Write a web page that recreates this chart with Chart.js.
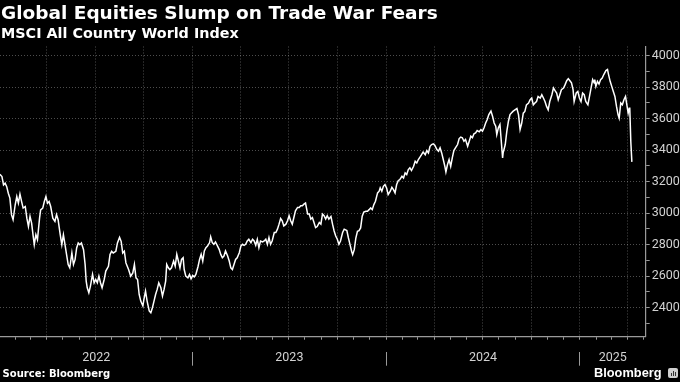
<!DOCTYPE html>
<html><head><meta charset="utf-8">
<script src="https://cdn.jsdelivr.net/npm/chart.js@4.4.1/dist/chart.umd.min.js"></script>
<style>
html,body{margin:0;padding:0;background:#000;width:680px;height:382px;overflow:hidden;}
#wrap{position:relative;width:680px;height:382px;}
canvas{position:absolute;left:0;top:0;}
.t{position:absolute;color:#fff;white-space:nowrap;font-family:"DejaVu Sans",sans-serif;font-weight:bold;}
#title{left:1px;top:3.5px;font-size:18.5px;line-height:18.5px;}
#sub{left:1px;top:26px;font-size:14.35px;line-height:14px;}
#src{left:2.6px;top:369px;font-size:10px;line-height:10px;}
#logo{left:594px;top:366px;font-family:"Liberation Sans",sans-serif;font-size:12.8px;line-height:13px;}
#icon{position:absolute;left:668px;top:368px;width:10px;height:10px;background:#cfcfcf;border-radius:2px;}
#icon i{position:absolute;bottom:2px;width:1.5px;background:#333;}
</style></head>
<body><div id="wrap">
<canvas id="c" width="680" height="382"></canvas>
<div class="t" id="title">Global Equities Slump on Trade War Fears</div>
<div class="t" id="sub">MSCI All Country World Index</div>
<div class="t" id="src">Source: Bloomberg</div>
<div class="t" id="logo">Bloomberg</div>
<div id="icon"><i style="left:2.5px;height:3px"></i><i style="left:4.5px;height:5px"></i><i style="left:6.5px;height:4px"></i></div>
</div>
<script>
// Days since 2022-01-01
const dayOffsets = [
1,5,8,11,14,17,20,23,26,30,33,36,39,42,45,49,52,55,58,61,
64,66,69,72,76,78,82,85,88,91,94,97,101,105,108,111,115,118,121,124,
127,130,133,137,140,143,146,149,152,155,159,162,164,166,169,172,176,179,182,185,
188,191,194,198,201,206,209,212,215,220,223,227,230,233,236,239,244,248,252,255,
258,261,264,267,271,273,276,279,283,286,289,292,295,298,301,305,308,311,314,
316,319,322,325,329,332,335,338,341,344,347,349,352,356,359,362,365,368,371,375,
378,381,384,387,390,393,397,399,402,405,408,412,415,418,421,424,427,431,434,437,
440,443,446,449,453,456,459,462,465,468,471,475,478,481,484,487,490,493,497,500,
503,506,509,512,515,519,522,525,528,531,534,537,541,544,547,550,553,556,559,563,
566,569,572,575,578,582,585,588,591,594,597,600,604,607,610,613,616,619,622,626,
629,632,635,638,641,644,648,651,
656,659,662,665,667,670,673,676,679,682,685,688,692,695,698,701,704,707,710,714,
717,719,722,725,728,731,734,738,741,744,747,750,753,756,760,763,766,769,772,775,
778,782,785,788,791,794,797,800,804,807,810,813,816,819,822,826,829,832,835,838,
841,843,846,849,852,855,858,861,865,868,871,874,877,880,884,887,890,893,896,899,
902,906,909,912,915,918,921,924,928,931,934,937,939,942,945,947,950,951,955,958,
961,964,967,970,974,977,980,983,
986,989,992,995,999,1002,1005,1008,1011,1014,1017,1021,1024,1027,1030,1033,1036,1039,1043,1046,
1049,1052,1055,1058,1061,1065,1068,1071,1074,1077,1080,1083,1085,1089,1092,1095,1098,1101,1104,1107,
1111,1114,1117,1120,1123,1124,1126,1129,1132,1135,1138,1141,1145,1148,1150,1153,1156,1159,1162,1165,
1168,1170,1173,1176,1179,1182,1184,1187,1189,1190,1192,1194
];
const values = [
3246,3232,3179,3190,3168,3126,3095,2990,2958,3053,3105,3063,3120,3074,3032,3042,2968,2916,2979,2937,
2853,2800,2863,2832,2968,3021,3032,3074,3105,3063,3074,3042,2968,2947,2990,2958,2863,2800,2863,2800,
2737,2674,2653,2747,2674,2705,2779,2811,2800,2811,2768,2674,2568,2526,2495,2537,2611,2558,2579,2558,
2600,2558,2526,2579,2632,2663,2737,2758,2747,2758,2811,2846,2821,2747,2758,2684,2642,2600,2621,2674,
2589,2579,2484,2442,2411,2453,2505,2442,2379,2368,2400,2442,2484,2516,2558,2526,2474,2516,2568,
2674,2653,2642,2653,2696,2664,2738,2696,2653,2706,2717,2642,2600,2589,2611,2583,2604,2596,2611,2660,
2706,2738,2696,2760,2781,2791,2813,2849,2813,2802,2817,2791,2770,2738,2717,2728,2760,2728,2696,2653,
2642,2674,2706,2717,2749,2791,2802,2796,2802,2823,2834,2813,2834,2823,2796,2834,2781,2823,2817,2823,
2834,2802,2845,2802,2823,2877,2877,2898,2930,2966,2951,2919,2930,2951,2983,2951,2930,2972,3015,3036,
3036,3047,3047,3057,3064,2994,2994,2962,2972,2940,2908,2915,2940,2930,2994,2983,2962,2983,2962,2979,
2930,2887,2855,2834,2802,2823,2877,2898,
2889,2842,2800,2758,2737,2768,2842,2885,2889,2906,2980,3007,3012,3012,3022,3033,3022,3054,3075,3128,
3139,3160,3139,3170,3181,3160,3118,3139,3164,3149,3128,3181,3206,3213,3234,3223,3255,3245,3276,3287,
3270,3297,3329,3318,3340,3355,3371,3388,3371,3397,3382,3424,3435,3439,3431,3403,3393,3414,3382,3340,
3297,3261,3308,3340,3297,3350,3397,3414,3435,3473,3482,3478,3456,3467,3424,3456,3488,3478,3503,3509,
3524,3516,3530,3520,3541,3572,3594,3625,3647,3615,3572,3551,3498,3541,3562,3478,3350,3382,3435,3520,
3583,3625,3636,3647,3657,3664,3625,3530,
3570,3634,3645,3687,3698,3719,3730,3687,3698,3708,3740,3730,3751,3730,3708,3677,3655,3708,3751,3794,
3777,3762,3719,3751,3783,3794,3815,3840,3853,3840,3826,3783,3708,3762,3772,3730,3708,3762,3751,3708,
3687,3740,3794,3847,3826,3847,3804,3836,3819,3847,3857,3879,3904,3911,3879,3836,3804,3772,3740,3677,
3623,3602,3698,3687,3719,3740,3698,3634,3666,3670,3453,3325
];
const yearLabels = ['2022','2023','2024','2025'];
const yTickValues = [2300,2400,2500,2600,2700,2800,2900,3000,3100,3200,3300,3400,3500,3600,3700,3800,3900,4000];
const yLabelStep = 200;
const xMin = 1.32, xMax = 1220.1;   // visible date range, days since 2022-01-01
const yMin = 2216, yMax = 4057;

const DAY = 86400000;
const base = Date.UTC(2022,0,1);
const dOff = (y,m,d) => (Date.UTC(y,m,d) - base) / DAY;

// month ticks and quarter gridlines
const monthTicks = [];
for (let y = 2022; y <= 2025; y++) for (let m = 0; m < 12; m++) {
  const v = dOff(y,m,1);
  if (v >= xMin && v <= xMax) monthTicks.push({value:v, quarter: m % 3 === 0});
}
const isQuarter = v => monthTicks.some(t => t.quarter && Math.abs(t.value - v) < 1e-6);

// year label ticks (centered on visible part of each year) + separators at year starts
const yearTicks = [];
yearLabels.forEach((lab, i) => {
  const y = +lab;
  const s = Math.max(dOff(y,0,1), xMin), e = Math.min(dOff(y+1,0,1), xMax);
  if (i > 0) yearTicks.push({value: dOff(y,0,1), label: '', sep: true});
  yearTicks.push({value: (s + e) / 2, label: lab, sep: false});
});
yearTicks.sort((a,b) => a.value - b.value);

const GRID = 'rgba(255,255,255,0.3)';
const AXIS = '#9a9a9a';
const LABEL = '#d2d2d2';
const FONT = {family: 'Roboto', size: 12.5};

new Chart(document.getElementById('c'), {
  type: 'line',
  data: { datasets: [{
    data: dayOffsets.map((d,i) => ({x: d, y: values[i]})),
    borderColor: '#ffffff', borderWidth: 1.5, pointRadius: 0, tension: 0, fill: false
  }]},
  options: {
    responsive: false, animation: false, devicePixelRatio: 1, events: [],
    layout: { padding: {top: 46.5, left: 0, right: 0, bottom: 0} },
    plugins: { legend: {display: false}, tooltip: {enabled: false} },
    scales: {
      x: {
        type: 'linear', position: 'bottom', weight: 0, min: xMin, max: xMax,
        afterBuildTicks: s => { s.ticks = monthTicks.map(t => ({value: t.value})); },
        afterFit: s => { s.height = 15; },
        ticks: { display: false },
        grid: {
          color: c => (c.tick && isQuarter(c.tick.value)) ? GRID : 'transparent',
          lineWidth: 1, tickLength: 3, tickColor: AXIS, tickBorderDash: [], tickWidth: 1
        },
        border: { display: true, color: AXIS, width: 1.2, dash: [1,2] }
      },
      xYear: {
        type: 'linear', position: 'bottom', weight: 1, min: xMin, max: xMax,
        afterBuildTicks: s => { s.ticks = yearTicks.map(t => ({value: t.value})); },
        afterFit: s => { s.height = 30.3; },
        ticks: { autoSkip: false, maxRotation: 0, padding: -15, color: LABEL, font: FONT,
                 callback: (v, i) => yearTicks[i] ? yearTicks[i].label : '' },
        grid: { drawOnChartArea: false, tickLength: 14, lineWidth: 1,
                tickColor: c => (c.index !== undefined && yearTicks[c.index] && yearTicks[c.index].sep) ? AXIS : 'transparent' },
        border: { display: false }
      },
      y: {
        position: 'right', min: yMin, max: yMax,
        afterBuildTicks: s => { s.ticks = yTickValues.map(v => ({value: v})); },
        afterFit: s => { s.width = 34.3; },
        ticks: { autoSkip: false, padding: 2, color: LABEL, font: FONT,
                 callback: v => (v % yLabelStep === 0) ? String(v) : '' },
        grid: {
          color: c => (c.tick && c.tick.value % yLabelStep === 0) ? GRID : 'transparent',
          lineWidth: 1, tickLength: 4, tickColor: AXIS, tickBorderDash: []
        },
        border: { display: true, color: AXIS, width: 1.2, dash: [1,2] }
      }
    }
  }
});
</script>
</body></html>
